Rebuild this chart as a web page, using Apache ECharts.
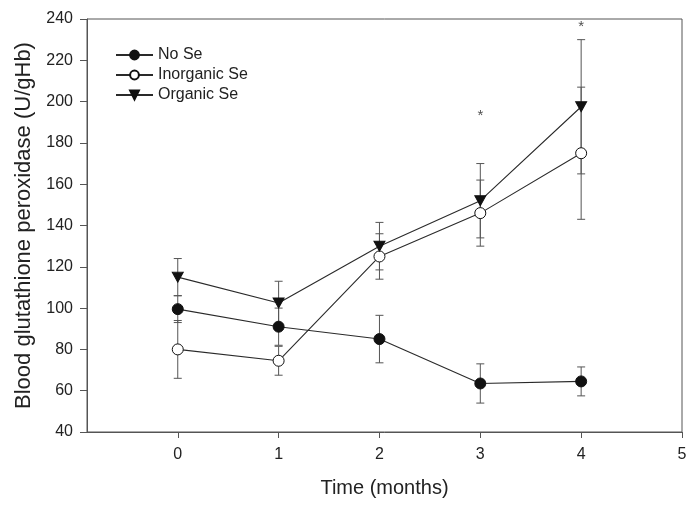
<!DOCTYPE html>
<html><head><meta charset="utf-8">
<script src="https://cdn.jsdelivr.net/npm/echarts@6/dist/echarts.min.js"></script>
<style>html,body{margin:0;padding:0;background:#fff}#c{width:695px;height:513px}</style>
</head><body><div id="c"></div>
<script>
const times = [0, 1, 2, 3, 4];
const xTicks = [0, 1, 2, 3, 4, 5];
const seriesNames = ['No Se', 'Inorganic Se', 'Organic Se'];
const noSe = [99.5, 91, 85, 63.5, 64.5];
const noSeErr = [6.5, 9, 11.5, 9.5, 7];
const inorg = [80, 74.5, 125, 146, 175];
const inorgErr = [14, 7, 11, 16, 32];
const org = [115, 102.5, 130, 152, 197.5];
const orgErr = [9, 10.5, 11.5, 18, 32.5];
const stars = [[3, 194.5], [4, 237.5]];

const FONT = '"Liberation Sans", Arial, sans-serif';
const chart = echarts.init(document.getElementById('c'), null, {renderer: 'canvas'});

function errSeries(name, means, errs) {
  return {
    type: 'custom', name: name + ' err', silent: true, z: 1,
    encode: {x: 0, y: [1, 2]},
    data: times.map((t, i) => [t, means[i] - errs[i], means[i] + errs[i]]),
    renderItem(params, api) {
      const x = api.value(0);
      const lo = api.coord([x, api.value(1)]);
      const hi = api.coord([x, api.value(2)]);
      const w = 4;
      const st = {stroke: '#555', lineWidth: 1};
      return {type: 'group', children: [
        {type: 'line', shape: {x1: lo[0], y1: lo[1], x2: hi[0], y2: hi[1]}, style: st},
        {type: 'line', shape: {x1: lo[0] - w, y1: lo[1], x2: lo[0] + w, y2: lo[1]}, style: st},
        {type: 'line', shape: {x1: hi[0] - w, y1: hi[1], x2: hi[0] + w, y2: hi[1]}, style: st}
      ]};
    }
  };
}
function lineSeries(name, vals, symbol, size, fill) {
  return {
    type: 'line', name: name, z: 3,
    data: times.map((t, i) => [t, vals[i]]),
    symbol: symbol, symbolSize: size, showAllSymbol: true,
    lineStyle: {color: '#2a2a2a', width: 1.1},
    itemStyle: {color: fill, borderColor: '#111', borderWidth: 1}
  };
}
const triDown = 'path://M0,0 L10,0 L5,9 Z';

chart.setOption({
  animation: false,
  backgroundColor: '#fff',
  textStyle: {fontFamily: FONT},
  grid: {left: 87, right: 13, top: 19, bottom: 81, show: true, borderColor: '#555', borderWidth: 1},
  legend: {
    orient: 'vertical', left: 110, top: 42, itemGap: 4, itemWidth: 37, itemHeight: 11,
    data: seriesNames,
    textStyle: {fontSize: 16, color: '#222', fontFamily: FONT}
  },
  xAxis: {
    type: 'value', min: -0.9, max: 5,
    name: 'Time (months)', nameLocation: 'middle', nameGap: 46,
    nameTextStyle: {fontSize: 20, color: '#222', fontFamily: FONT},
    axisLine: {show: true, onZero: false, lineStyle: {color: '#555'}},
    axisTick: {show: true, length: 6, customValues: xTicks, lineStyle: {color: '#555'}},
    axisLabel: {customValues: xTicks, fontSize: 16, color: '#222', margin: 15, fontFamily: FONT},
    splitLine: {show: false}
  },
  yAxis: {
    type: 'value', min: 40, max: 240, interval: 20,
    name: 'Blood glutathione peroxidase (U/gHb)', nameLocation: 'middle', nameGap: 52,
    nameTextStyle: {fontSize: 22, color: '#222', fontFamily: FONT},
    axisLine: {show: true, onZero: false, lineStyle: {color: '#555'}},
    axisTick: {show: true, length: 7, lineStyle: {color: '#555'}},
    axisLabel: {fontSize: 16, color: '#222', margin: 14, fontFamily: FONT},
    splitLine: {show: false}
  },
  series: [
    errSeries('No Se', noSe, noSeErr),
    errSeries('Inorganic Se', inorg, inorgErr),
    errSeries('Organic Se', org, orgErr),
    lineSeries('No Se', noSe, 'circle', 11, '#111'),
    lineSeries('Inorganic Se', inorg, 'circle', 11, '#fff'),
    lineSeries('Organic Se', org, triDown, [11, 10], '#111'),
    {
      type: 'scatter', name: 'sig', silent: true, symbolSize: 0, z: 4,
      data: stars,
      label: {show: true, position: 'inside', formatter: '*', fontSize: 15, color: '#222', offset: [0, 3]}
    }
  ]
});
</script></body></html>
